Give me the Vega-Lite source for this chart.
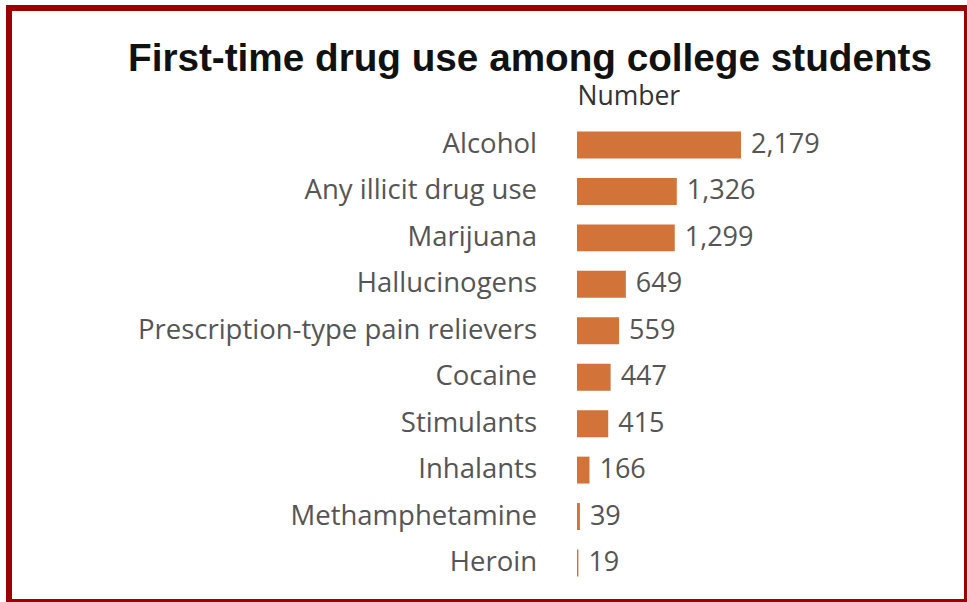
{
  "$schema": "https://vega.github.io/schema/vega-lite/v6.json",
  "width": 958,
  "height": 594,
  "autosize": {"type": "none"},
  "padding": {"left": 9, "top": 8, "right": 0, "bottom": 0},
  "background": "white",
  "title": {
    "text": "First-time drug use among college students",
    "orient": "top",
    "anchor": "start",
    "frame": "group",
    "dx": 119,
    "offset": -102,
    "baseline": "alphabetic",
    "font": "Liberation Sans",
    "fontSize": 38.7,
    "fontWeight": "bold",
    "color": "#111111"
  },
  "data": {
    "values": [
      {"drug": "Alcohol", "number": 2179},
      {"drug": "Any illicit drug use", "number": 1326},
      {"drug": "Marijuana", "number": 1299},
      {"drug": "Hallucinogens", "number": 649},
      {"drug": "Prescription-type pain relievers", "number": 559},
      {"drug": "Cocaine", "number": 447},
      {"drug": "Stimulants", "number": 415},
      {"drug": "Inhalants", "number": 166},
      {"drug": "Methamphetamine", "number": 39},
      {"drug": "Heroin", "number": 19}
    ]
  },
  "config": {"view": {"stroke": "#9c0000", "strokeWidth": 6}},
  "encoding": {
    "y": {
      "field": "drug",
      "type": "nominal",
      "sort": null,
      "axis": null,
      "scale": {"range": [113.8, 578.2], "paddingInner": 0.42, "paddingOuter": 0.21}
    }
  },
  "layer": [
    {
      "mark": {"type": "bar", "color": "#d2733a"},
      "encoding": {
        "x": {
          "field": "number",
          "type": "quantitative",
          "scale": {"domain": [-7547, 5182], "nice": false, "zero": false},
          "axis": {
            "orient": "top",
            "title": "Number",
            "labels": false,
            "ticks": false,
            "domain": false,
            "grid": false,
            "titleX": 568,
            "titleY": 96,
            "titleAlign": "left",
            "titleBaseline": "alphabetic",
            "titleFont": "Open Sans",
            "titleFontSize": 26.5,
            "titleFontWeight": "normal",
            "titleColor": "#333333"
          }
        },
        "x2": {"datum": 0}
      }
    },
    {
      "mark": {"type": "text", "align": "right", "baseline": "middle", "dx": -40, "font": "Open Sans", "fontSize": 27.5, "color": "#555555"},
      "encoding": {
        "x": {"datum": 0},
        "text": {"field": "drug"}
      }
    },
    {
      "mark": {"type": "text", "align": "left", "baseline": "middle", "dx": 10, "font": "Open Sans", "fontSize": 27, "color": "#555555"},
      "encoding": {
        "x": {"field": "number", "type": "quantitative"},
        "text": {"field": "number", "format": ","}
      }
    }
  ]
}
